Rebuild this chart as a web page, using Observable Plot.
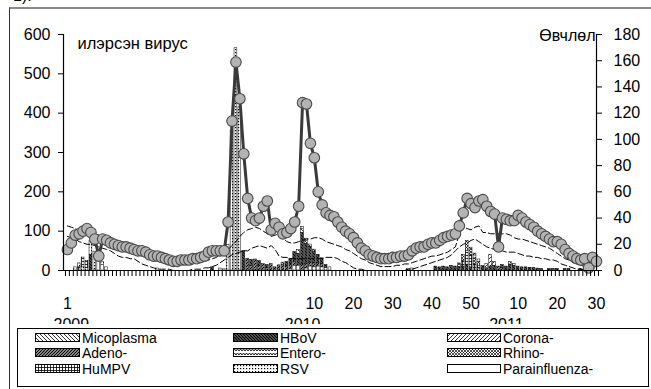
<!DOCTYPE html>
<html><head><meta charset="utf-8">
<script src="https://cdn.jsdelivr.net/npm/d3@7"></script>
<script src="https://cdn.jsdelivr.net/npm/@observablehq/plot@0.6"></script>
<style>
body{margin:0;background:#fff;}
#wrap{position:relative;width:651px;height:389px;overflow:hidden;font-family:"Liberation Sans",Arial,sans-serif;color:#000;}
#chart{position:absolute;left:0;top:0;}
#chart svg{overflow:hidden;display:block;}
#frame{position:absolute;left:9px;top:7px;width:700px;height:400px;border-top:2px solid #8a8a8a;border-left:1px solid #333;pointer-events:none;}
#num{position:absolute;left:13px;top:-13px;font-size:16px;}
#legend{position:absolute;left:17px;top:328px;width:630px;height:57px;border:1px solid #000;background:#fff;}
.item{position:absolute;height:15px;display:flex;align-items:center;font-size:14px;white-space:nowrap;}
.item svg{margin-right:2px;display:block;}
</style></head>
<body>
<svg width="0" height="0" style="position:absolute">
<defs>
<pattern id="p-mico" width="4" height="4" patternUnits="userSpaceOnUse"><rect width="4" height="4" fill="#fff"/><path d="M-1,-1L5,5M3,-1L5,1M-1,3L1,5" stroke="#000" stroke-width="0.8"/></pattern>
<pattern id="p-hbov" width="3" height="3" patternUnits="userSpaceOnUse"><rect width="3" height="3" fill="#fff"/><path d="M-1,-1L4,4M2,-1L4,1M-1,2L1,4" stroke="#000" stroke-width="1.6"/></pattern>
<pattern id="p-corona" width="4" height="4" patternUnits="userSpaceOnUse"><rect width="4" height="4" fill="#fff"/><path d="M-1,5L5,-1M-1,1L1,-1M3,5L5,3" stroke="#000" stroke-width="0.8"/></pattern>
<pattern id="p-adeno" width="3" height="3" patternUnits="userSpaceOnUse"><rect width="3" height="3" fill="#fff"/><path d="M-1,4L4,-1M-1,1L1,-1M2,4L4,2" stroke="#000" stroke-width="1.4"/></pattern>
<pattern id="p-entero" width="6" height="4" patternUnits="userSpaceOnUse"><rect width="6" height="4" fill="#fff"/><path d="M0,3L1.5,1L3,3L4.5,1L6,3" fill="none" stroke="#000" stroke-width="0.9"/></pattern>
<pattern id="p-rhino" width="3" height="3" patternUnits="userSpaceOnUse"><rect width="3" height="3" fill="#fff"/><path d="M0,0L3,3M3,0L0,3" stroke="#000" stroke-width="0.7"/></pattern>
<pattern id="p-humpv" width="3" height="3" patternUnits="userSpaceOnUse"><rect width="3" height="3" fill="#fff"/><path d="M0,0.5H3M0.5,0V3" stroke="#000" stroke-width="0.8"/></pattern>
<pattern id="p-rsv" width="3" height="3" patternUnits="userSpaceOnUse"><rect width="3" height="3" fill="#fff"/><rect x="1" y="1" width="1.2" height="1.2" fill="#000"/></pattern>
<pattern id="p-para" width="4" height="4" patternUnits="userSpaceOnUse"><rect width="4" height="4" fill="#fff"/></pattern>
</defs>
</svg>
<div id="wrap">
  <div id="chart"></div>
  <div id="frame"></div>
  <div id="num">1).</div>
  <div id="legend"></div>
</div>
<script>
// ---- data ----
const leftTitle = "илэрсэн вирус";
const rightTitle = "Өвчлөл";
const leftTicks = [0, 100, 200, 300, 400, 500, 600];
const rightTicks = [0, 20, 40, 60, 80, 100, 120, 140, 160, 180];
const labelWeeks = [0, 63, 73, 83, 93, 103, 115, 125, 135];
const weekLabels = ["1", "10", "20", "30", "40", "50", "10", "20", "30"];
const yearWeeks = [1, 60, 112];
const yearLabels = ["2009", "2010", "2011"];

// Өвчлөл (right axis), one value per week
const incidence = [16,21,27,28,30,32,29,24,11,24, 23,21,20,19,18,18,17,16,15,15,
  14,12,11,11,10,9,8,7,7,8, 8,8,9,9,10,11,14,15,15,15,
  15,37,114,159,131,89,55,40,38,40, 49,53,31,36,33,28,29,32,37,49,
  128,127,97,86,60,50,44,42,41,37, 33,30,28,25,21,17,15,12,11,10,
  9,9,9,10,10,11,11,12,15,17, 18,18,20,21,21,23,25,26,27,28,
  34,44,55,51,48,53,54,49,45,43, 18,40,39,38,38,42,40,37,35,33,
  30,28,26,24,22,22,20,16,13,11, 9,8,9,2,10,7];
// upper dashed threshold (right axis)
const upperLine = [34,33,32,30,29,29,28,28,27,27, 26,25,24,22,21,20,19,18,17,16,
  15,14,13,12,11,10,9,8,7,6, 5,5,5,6,6,7,8,9,10,12,
  14,16,19,22,26,29,31,32,33,32, 30,28,26,27,28,25,22,21,21,22,
  23,24,24,25,25,24,22,21,20,19, 18,16,15,13,11,9,8,6,5,4,
  3,3,3,3,4,4,5,5,6,7, 8,9,10,11,11,12,13,14,16,18,
  28,33,32,31,33,34,29,29,28,28, 28,28,28,27,25,24,24,23,22,21,
  20,19,18,17,15,13,11,9,8,6, 5,4,3,3,2,2];
// lower dashed threshold (right axis)
const lowerLine = [26,25,24,22,21,20,20,19,18,17, 16,15,13,11,10,10,9,9,7,5,
  4,3,2,1,1,1,1,0,0,0, 0,0,1,1,1,2,2,3,4,6,
  8,10,12,13,14,15,15,17,18,19, 18,17,19,16,11,10,10,9,9,9,
  9,9,9,9,9,9,10,10,10,9, 7,6,4,2,1,1,0,0,0,0,
  0,0,0,0,0,0,0,1,1,2, 3,4,5,6,7,8,9,10,12,15,
  18,20,21,23,24,22,20,18,17,16, 15,15,14,14,14,13,12,11,11,10,
  10,9,9,8,8,7,5,4,3,2, 1,1,0,0,0,0];

// detected viruses (left axis), sparse: week index + count
const micoWeeks = [4,5,55,59,60,61,62,63,105,113,114];
const micoCounts = [8,6,5,10,10,8,6,5,5,6,5];
const hbovWeeks = [6,37,45,47,49,51,56,57,58,59,60,61,62,63,64,65,66,94,95,96,97,98,99,100,101,102,103,106,107,108,109,111,112,113,114,115,116,117,118,119,120,121,123,124,125,127,128,131,132];
const hbovCounts = [40,8,50,15,12,8,12,15,25,30,80,50,40,30,22,15,8,10,8,10,8,12,10,8,10,15,8,8,6,10,12,8,10,15,12,10,8,8,7,7,5,4,4,4,4,4,4,4,3];
const coronaWeeks = [104,107,108,109];
const coronaCounts = [5,10,30,10];
const adenoWeeks = [46,47,48,49,50,51,52,53,54,55,56,57,58,60,61,62,63,64,65,110,111];
const adenoCounts = [30,12,28,12,16,6,16,8,13,15,10,12,10,15,12,10,10,8,8,10,6];
const enteroWeeks = [104,105,106];
const enteroCounts = [8,6,4];
const rhinoWeeks = [100,101,102,103,104,105];
const rhinoCounts = [10,15,25,20,15,10];
const humpvWeeks = [3,4,5,101,102,103,104,105];
const humpvCounts = [8,25,18,15,35,30,15,7];
const rsvWeeks = [2,3,6,7,9,41,42,43,44,60,61];
const rsvCounts = [8,10,35,48,8,65,355,565,415,5,6];
const paraWeeks = [8,9,10,23,39,40,57,58,59,61,62,63,64,65,66,67,87,88];
const paraCounts = [28,14,8,5,5,3,3,12,12,5,10,8,10,8,6,8,4,5];

const virusNames = ["Micoplasma","HBoV","Corona-","Adeno-","Entero-","Rhino-","HuMPV","RSV","Parainfluenza-"];
const virusPatterns = ["p-mico","p-hbov","p-corona","p-adeno","p-entero","p-rhino","p-humpv","p-rsv","p-para"];
const stackOrder = ["Parainfluenza-","Adeno-","HBoV","Micoplasma","HuMPV","Rhino-","Entero-","Corona-","RSV"];

// ---- build tables ----
const virusSeries = [[micoWeeks,micoCounts],[hbovWeeks,hbovCounts],[coronaWeeks,coronaCounts],[adenoWeeks,adenoCounts],
  [enteroWeeks,enteroCounts],[rhinoWeeks,rhinoCounts],[humpvWeeks,humpvCounts],[rsvWeeks,rsvCounts],[paraWeeks,paraCounts]];
const barRows = [];
virusSeries.forEach(([w, c], j) => w.forEach((wk, i) => barRows.push({week: wk, count: c[i], virus: virusNames[j]})));
const k = 600 / 180;
const toRows = arr => arr.map((v, i) => ({week: i, v: v * k}));
const incRows = toRows(incidence), upRows = toRows(upperLine), loRows = toRows(lowerLine);
const nWeeks = incidence.length;
const weekTicks = d3.range(-0.5, nWeeks, 1);
const rightTickVals = rightTicks.map(v => v * k);

const chart = Plot.plot({
  width: 651, height: 324,
  marginLeft: 63, marginRight: 55, marginTop: 34, marginBottom: 54,
  style: {fontFamily: "Liberation Sans, Arial, sans-serif", fontSize: "16px", background: "transparent", color: "#000"},
  x: {domain: [-1, nWeeks - 1], axis: null, label: null},
  y: {domain: [0, 600], axis: null, label: null},
  color: {type: "ordinal", domain: virusNames, range: virusPatterns.map(p => `url(#${p})`)},
  marks: [
    Plot.rectY(barRows, {x1: d => d.week - 0.36, x2: d => d.week + 0.36, y: "count", fill: "virus", order: stackOrder, stroke: "#000", strokeWidth: 0.5}),
    Plot.line(upRows, {x: "week", y: "v", stroke: "#000", strokeWidth: 1, strokeDasharray: "6,3"}),
    Plot.line(loRows, {x: "week", y: "v", stroke: "#000", strokeWidth: 1, strokeDasharray: "6,3"}),
    Plot.line(incRows, {x: "week", y: "v", stroke: "#3a3a3a", strokeWidth: 3}),
    Plot.dot(incRows, {x: "week", y: "v", r: 5.3, fill: "#b3b3b3", stroke: "#4a4a4a", strokeWidth: 1.1}),
    Plot.ruleY([0], {x1: -1, x2: nWeeks - 1, stroke: "#000", strokeWidth: 1.2}),
    Plot.ruleX([-1, nWeeks - 1], {y1: 0, y2: 600, stroke: "#000", strokeWidth: 1.2}),
    Plot.axisY({anchor: "left", label: null, ticks: leftTicks, tickSize: 5, tickPadding: 8, fontSize: 16}),
    Plot.axisY({anchor: "right", label: null, ticks: rightTickVals, tickFormat: d => rightTicks[rightTickVals.indexOf(d)], tickSize: 5, tickPadding: 12, fontSize: 16}),
    Plot.axisX({anchor: "bottom", label: null, ticks: weekTicks, tickFormat: null, tickSize: 6, text: null}),
    Plot.axisX({anchor: "bottom", label: null, ticks: labelWeeks, tickFormat: d => weekLabels[labelWeeks.indexOf(d)], tickSize: 0, tickPadding: 27, fontSize: 16}),
    Plot.axisX({anchor: "bottom", label: null, ticks: yearWeeks, tickFormat: d => yearLabels[yearWeeks.indexOf(d)], tickSize: 0, tickPadding: 48, fontSize: 16}),
    Plot.text([leftTitle], {frameAnchor: "top-left", dx: 14, dy: 3, textAnchor: "start", lineAnchor: "top", fontSize: 16.5}),
    Plot.text([rightTitle], {frameAnchor: "top-right", dx: -1, dy: 1, textAnchor: "end", lineAnchor: "middle", fontSize: 16})
  ]
});
document.getElementById("chart").appendChild(chart);

// ---- legend ----
const legend = document.getElementById("legend");
const colX = [17, 215, 429];
const swW = [45, 45, 54];
const rowY = [1, 16, 32];
const gridOrder = [["Micoplasma","HBoV","Corona-"],["Adeno-","Entero-","Rhino-"],["HuMPV","RSV","Parainfluenza-"]];
gridOrder.forEach((row, r) => row.forEach((name, c) => {
  const pat = virusPatterns[virusNames.indexOf(name)];
  const it = document.createElement("div");
  it.className = "item";
  it.style.left = colX[c] + "px";
  it.style.top = rowY[r] + "px";
  it.innerHTML = `<svg width="${swW[c]}" height="9"><rect x="0.5" y="0.5" width="${swW[c]-1}" height="8" fill="url(#${pat})" stroke="#000" stroke-width="1"/></svg><span>${name}</span>`;
  legend.appendChild(it);
}));
</script>
</body></html>
